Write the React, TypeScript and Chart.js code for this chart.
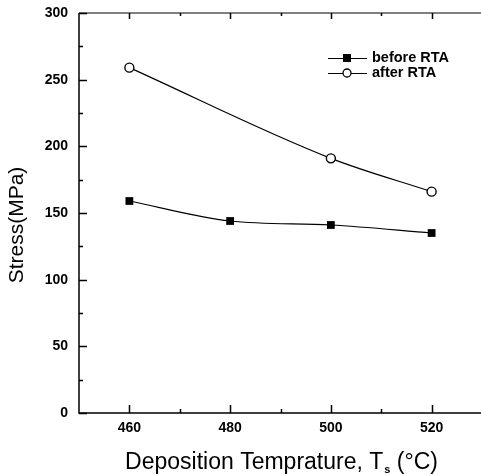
import React, { useEffect, useRef } from "react";
import { Chart, registerables } from "chart.js";

Chart.register(...registerables);

const temps = [460, 480, 500, 520];
const beforeRTA = [159, 144, 141, 135];
const afterTemps = [460, 500, 520];
const afterRTA = [259, 191, 166];
const xTickValues = [460, 480, 500, 520];
const xMinorValues = [470, 490, 510];
const yTickValues = [0, 50, 100, 150, 200, 250, 300];
const yMinorValues = [25, 75, 125, 175, 225, 275];
const legendLabels = ["before RTA", "after RTA"];
const xTitleMain = "Deposition Temprature, T";
const xTitleSub = "s";
const xTitleEnd = " (°C)";
const yTitle = "Stress(MPa)";

const FONT = "'Liberation Sans', Arial, sans-serif";

const framePlugin = {
  id: "frame",
  afterDraw(chart: any) {
    const { ctx, chartArea, scales } = chart;
    const { left, top, right, bottom } = chartArea;
    const x = scales.x;
    const y = scales.y;
    ctx.save();
    ctx.strokeStyle = "#000";
    ctx.lineWidth = 1.5;
    ctx.beginPath();
    ctx.moveTo(left, top);
    ctx.lineTo(left, bottom);
    ctx.lineTo(right, bottom);
    ctx.stroke();
    ctx.lineWidth = 1;
    ctx.beginPath();
    ctx.moveTo(left, top);
    ctx.lineTo(right, top);
    ctx.stroke();
    ctx.lineWidth = 1.5;
    ctx.beginPath();
    xTickValues.forEach((v) => {
      const px = Math.round(x.getPixelForValue(v)) + 0.5;
      ctx.moveTo(px, bottom);
      ctx.lineTo(px, bottom - 8);
      ctx.moveTo(px, top);
      ctx.lineTo(px, top + 6);
    });
    xMinorValues.forEach((v) => {
      const px = Math.round(x.getPixelForValue(v)) + 0.5;
      ctx.moveTo(px, bottom);
      ctx.lineTo(px, bottom - 4);
      ctx.moveTo(px, top);
      ctx.lineTo(px, top + 3);
    });
    yTickValues.forEach((v) => {
      const py = Math.round(y.getPixelForValue(v)) + 0.5;
      ctx.moveTo(left, py);
      ctx.lineTo(left + 8, py);
    });
    yMinorValues.forEach((v) => {
      const py = Math.round(y.getPixelForValue(v)) + 0.5;
      ctx.moveTo(left, py);
      ctx.lineTo(left + 4, py);
    });
    ctx.stroke();

    // Axis titles
    ctx.fillStyle = "#000";
    ctx.textBaseline = "alphabetic";
    const mainFont = `23px ${FONT}`;
    const subFont = `bold 11px ${FONT}`;
    ctx.font = mainFont;
    const w1 = ctx.measureText(xTitleMain).width;
    ctx.font = subFont;
    const w2 = ctx.measureText(xTitleSub).width;
    ctx.font = mainFont;
    const w3 = ctx.measureText(xTitleEnd).width;
    const total = w1 + w2 + w3;
    const cx = 281;
    let sx = cx - total / 2;
    const base = 469;
    ctx.textAlign = "left";
    ctx.fillText(xTitleMain, sx, base);
    sx += w1 + 1;
    ctx.font = subFont;
    ctx.fillText(xTitleSub, sx, base + 4);
    sx += w2;
    ctx.font = mainFont;
    ctx.fillText(xTitleEnd, sx, base);

    ctx.save();
    ctx.translate(17, 225);
    ctx.rotate(-Math.PI / 2);
    ctx.textAlign = "center";
    ctx.textBaseline = "middle";
    ctx.font = `21px ${FONT}`;
    ctx.fillText(yTitle, 0, 0);
    ctx.restore();

    // Legend
    const ds = chart.data.datasets;
    const rows = [58, 73];
    rows.forEach((ry, i) => {
      const d = ds[i];
      ctx.strokeStyle = "#000";
      ctx.lineWidth = 1;
      ctx.beginPath();
      ctx.moveTo(328, ry + 0.5);
      ctx.lineTo(367, ry + 0.5);
      ctx.stroke();
      const r = 4;
      if (d.pointStyle === "rect") {
        ctx.fillStyle = "#000";
        ctx.fillRect(347 - r, ry - r, 2 * r, 2 * r);
      } else {
        ctx.fillStyle = "#fff";
        ctx.beginPath();
        ctx.arc(347, ry, r, 0, Math.PI * 2);
        ctx.fill();
        ctx.lineWidth = 1.3;
        ctx.stroke();
      }
      ctx.fillStyle = "#000";
      ctx.font = `bold 14.5px ${FONT}`;
      ctx.textAlign = "left";
      ctx.textBaseline = "middle";
      ctx.fillText(legendLabels[i], 372, ry);
    });
    ctx.restore();
  },
};

export default function App() {
  const ref = useRef<HTMLCanvasElement>(null);
  useEffect(() => {
    document.body.style.margin = "0";
    const canvas = ref.current!;
    const chart = new Chart(canvas, {
      type: "line",
      data: {
        datasets: [
          {
            label: legendLabels[0],
            data: temps.map((t, i) => ({ x: t, y: beforeRTA[i] })),
            borderColor: "#000",
            borderWidth: 1.2,
            backgroundColor: "#000",
            pointStyle: "rect",
            pointRadius: 5.5,
            pointBorderWidth: 0,
            tension: 0.4,
            cubicInterpolationMode: "monotone",
          },
          {
            label: legendLabels[1],
            data: afterTemps.map((t, i) => ({ x: t, y: afterRTA[i] })),
            borderColor: "#000",
            borderWidth: 1.2,
            backgroundColor: "#fff",
            pointStyle: "circle",
            pointRadius: 4.5,
            pointBorderWidth: 1.4,
            tension: 0.4,
            cubicInterpolationMode: "monotone",
          },
        ],
      },
      options: {
        responsive: false,
        animation: false,
        devicePixelRatio: 1,
        layout: { autoPadding: false, padding: { top: 13, right: 0, left: 0, bottom: 0 } },
        plugins: { legend: { display: false }, tooltip: { enabled: false } },
        scales: {
          x: {
            type: "linear",
            min: 450,
            max: 530,
            grid: { display: false, drawTicks: false },
            border: { display: false },
            afterBuildTicks: (s: any) => {
              s.ticks = xTickValues.map((v) => ({ value: v }));
            },
            afterFit: (s: any) => {
              s.height = 62;
              s.paddingLeft = 0;
              s.paddingRight = 0;
            },
            ticks: {
              padding: 7,
              color: "#000",
              font: { family: FONT, size: 14, weight: "bold" },
              maxRotation: 0,
            },
          },
          y: {
            type: "linear",
            min: 0,
            max: 300,
            grid: { display: false, drawTicks: false },
            border: { display: false },
            afterBuildTicks: (s: any) => {
              s.ticks = yTickValues.map((v) => ({ value: v }));
            },
            afterFit: (s: any) => {
              s.width = 79;
              s.paddingTop = 0;
              s.paddingBottom = 0;
            },
            ticks: {
              padding: 11,
              color: "#000",
              font: { family: FONT, size: 14, weight: "bold" },
            },
          },
        },
      },
      plugins: [framePlugin],
    } as any);
    return () => chart.destroy();
  }, []);
  return (
    <div style={{ width: 481, height: 475, overflow: "hidden", background: "#fff" }}>
      <canvas ref={ref} width={482} height={475} style={{ display: "block" }} />
    </div>
  );
}
